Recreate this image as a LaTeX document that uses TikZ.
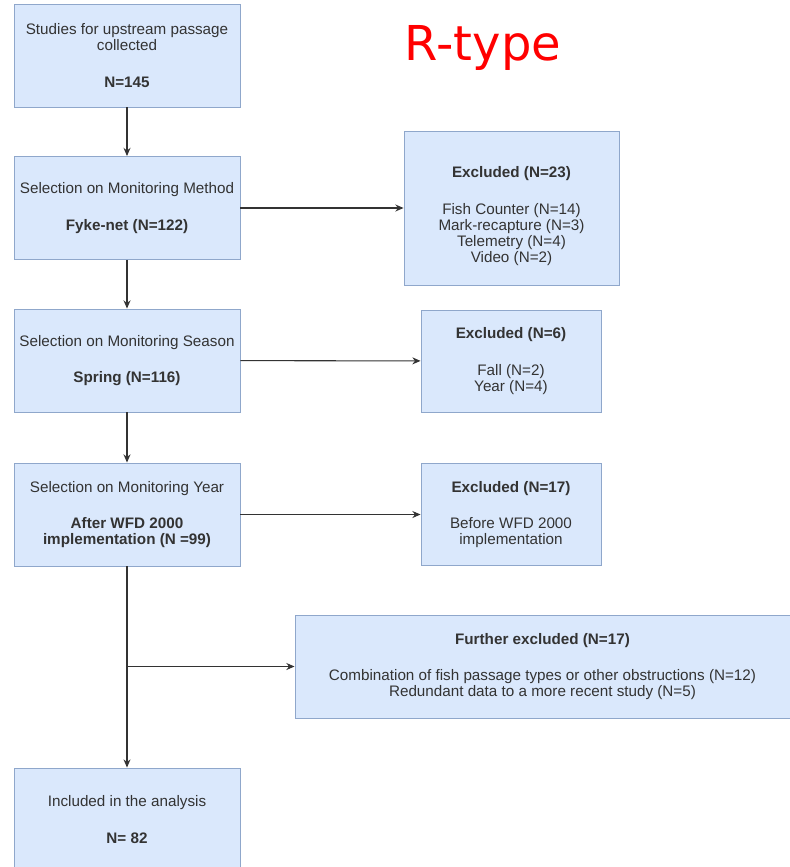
\documentclass[tikz,border=0pt]{standalone}
\usepackage{fontspec}
\setmainfont{Liberation Sans}
\newfontfamily\titlefont{DejaVu Sans}
\usepackage{xcolor}
\usetikzlibrary{positioning, arrows.meta, calc}

\definecolor{boxfill}{HTML}{DAE8FC}
\definecolor{boxline}{HTML}{8FA7CB}
\definecolor{textgray}{HTML}{333333}

\begin{document}
\begin{tikzpicture}[
    x=0.03cm, y=-0.03cm,
    font=\fontsize{13}{13.7}\selectfont,
    stage/.style={draw=boxline, line width=0.8pt, fill=boxfill, rectangle, minimum width=6.78cm, minimum height=3.09cm, align=center, inner sep=2pt, text=textgray},
    excl/.style={stage, minimum width=5.4cm, minimum height=3.06cm},
    link/.style={draw=textgray, line width=0.9pt, -{Stealth[length=7pt, width=6pt]}}
]
    \useasboundingbox (0,0) rectangle (790,867);

    % Main stages
    \node[stage] (collect) at (127,55.5) {Studies for upstream passage\\collected\\[17.5pt]\textbf{N=145}};
    \node[stage] (method) at (127,208) {Selection on Monitoring Method\\[17.5pt]\textbf{Fyke-net (N=122)}};
    \node[stage] (season) at (127,360.5) {Selection on Monitoring Season\\[17.5pt]\textbf{Spring (N=116)}};
    \node[stage] (year) at (127,514.5) {Selection on Monitoring Year\\[17.5pt]\textbf{After WFD 2000}\\\textbf{implementation (N =99)}};
    \node[stage] (incl) at (127,819.5) {Included in the analysis\\[17.5pt]\textbf{N= 82}};

    % Exclusions
    \node[excl, minimum width=6.45cm, minimum height=4.62cm] (exmethod) at (511.5,208) {\rule{0pt}{23pt}\textbf{Excluded (N=23)}\\[17.5pt]Fish Counter (N=14)\\Mark-recapture (N=3)\\Telemetry (N=4)\\Video (N=2)};
    \node[excl] (exseason) at (511,361) {\textbf{Excluded (N=6)}\\[17.5pt]Fall (N=2)\\Year (N=4)};
    \node[excl] (exyear) at (511,514.5) {\textbf{Excluded (N=17)}\\[17.5pt]Before WFD 2000\\implementation};
    \node[excl, minimum width=14.85cm, minimum height=3.09cm] (further) at (542.5,666.5) {\textbf{Further excluded (N=17)}\\[17.5pt]Combination of fish passage types or other obstructions (N=12)\\Redundant data to a more recent study (N=5)};

    % Title
    \node[text=red, font=\titlefont\fontsize{41}{45}\selectfont] (title) at (483,48) {R-type};

    % Connections
    \draw[link] (collect) -- (method);
    \draw[link] (method) -- (season);
    \draw[link] (season) -- (year);
    \draw[link] (year) -- (incl);
    \draw[link] (method) -- (exmethod);
    \draw[link] (season) -- (exseason);
    \draw[link] (year) -- (exyear);
    \coordinate (split) at (year.south |- further.west);
    \draw[link] (split) -- (further);

\end{tikzpicture}
\end{document}
